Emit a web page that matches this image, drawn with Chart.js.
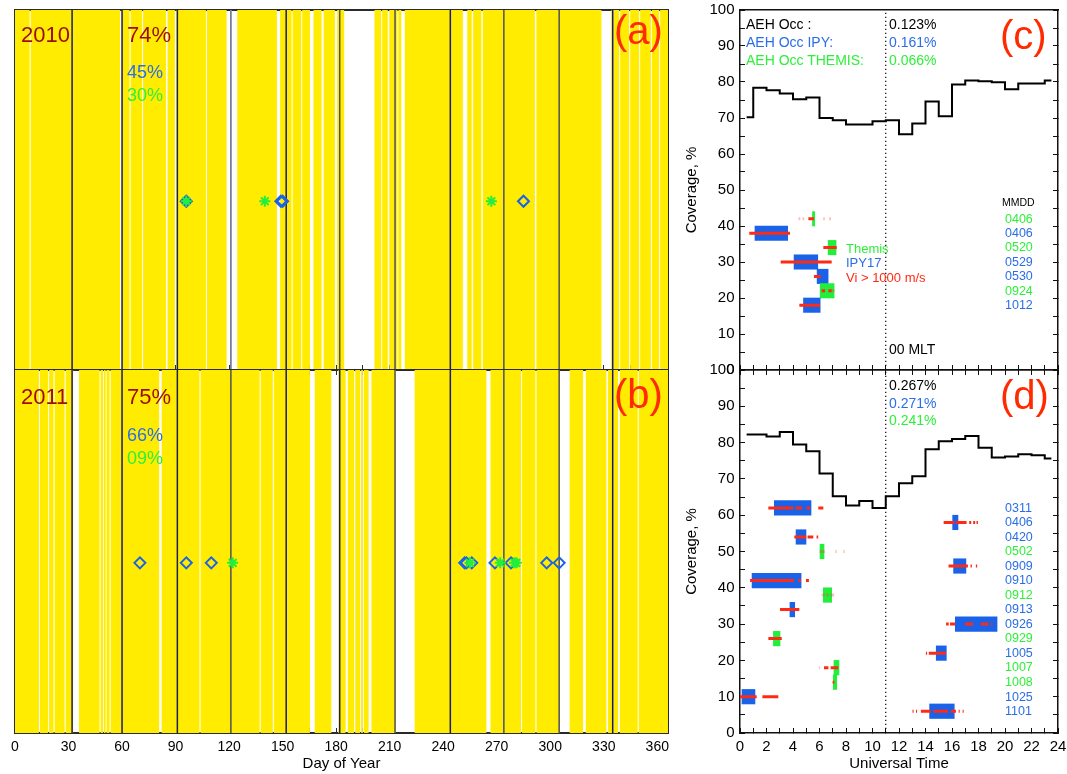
<!DOCTYPE html>
<html lang="en">
<head>
<meta charset="UTF-8">
<title>AEH coverage 2010 - 2011</title>
<style>
    * { margin: 0; padding: 0; box-sizing: border-box; }
    body {
        width: 1067px; height: 774px; position: relative; overflow: hidden;
        background: #fff; font-family: 'Liberation Sans', Arial, sans-serif;
    }
    canvas { position: absolute; }
    .t { position: absolute; line-height: 1; white-space: nowrap; }
    .big { font-size: 22px; color: #9c0c0c; }
    .mid { font-size: 18px; }
    .tag { font-size: 40px; color: #ff2a00; }
    .aeh { font-size: 14px; }
    .leg { font-size: 13px; }
    .blue { color: #2a6ee6; }
    .green { color: #2ef03a; }
    .red { color: #ff2a14; }
    .mmdd { position: absolute; font-size: 12.5px; line-height: 1; }
</style>
</head>
<body>
    <canvas id="cA" width="680" height="372" style="left:0;top:0"></canvas>
    <canvas id="cB" width="680" height="412" style="left:0;top:362px"></canvas>
    <canvas id="cC" width="387" height="376" style="left:680px;top:0"></canvas>
    <canvas id="cD" width="387" height="412" style="left:680px;top:362px"></canvas>

    <!-- panel (a) -->
    <div class="t big" style="left:21px;top:24px">2010</div>
    <div class="t big" style="left:127px;top:24px">74%</div>
    <div class="t mid blue" style="left:127px;top:62.5px">45%</div>
    <div class="t mid green" style="left:127px;top:85.5px">30%</div>
    <div class="t tag" style="left:614px;top:10px">(a)</div>

    <!-- panel (b) -->
    <div class="t big" style="left:21px;top:386px">2011</div>
    <div class="t big" style="left:127px;top:386px">75%</div>
    <div class="t mid blue" style="left:127px;top:426px">66%</div>
    <div class="t mid green" style="left:127px;top:448.5px">09%</div>
    <div class="t tag" style="left:614px;top:374px">(b)</div>

    <!-- panel (c) -->
    <div class="t aeh" style="left:746px;top:16.5px">AEH Occ :</div>
    <div class="t aeh blue" style="left:746px;top:35px">AEH Occ IPY:</div>
    <div class="t aeh green" style="left:746px;top:52.5px">AEH Occ THEMIS:</div>
    <div class="t aeh" style="left:889px;top:16.5px">0.123%</div>
    <div class="t aeh blue" style="left:889px;top:35px">0.161%</div>
    <div class="t aeh green" style="left:889px;top:52.5px">0.066%</div>
    <div class="t tag" style="left:1000px;top:15px">(c)</div>
    <div class="t leg green" style="left:846px;top:241.5px">Themis</div>
    <div class="t leg blue" style="left:846px;top:256px">IPY17</div>
    <div class="t leg red" style="left:846px;top:270.5px">Vi &gt; 1000 m/s</div>
    <div class="t" style="left:1002px;top:197px;font-size:10.5px">MMDD</div>
    <div class="t aeh" style="left:889px;top:341.5px">00 MLT</div>

    <!-- panel (d) -->
    <div class="t aeh" style="left:889px;top:378px">0.267%</div>
    <div class="t aeh blue" style="left:889px;top:396px">0.271%</div>
    <div class="t aeh green" style="left:889px;top:413px">0.241%</div>
    <div class="t tag" style="left:1000px;top:375px">(d)</div>

    <script src="https://cdn.jsdelivr.net/npm/chart.js@4.4.0/dist/chart.umd.min.js"></script>
    <script>
        // ---- data: day-of-year coverage (white = no data) ----
        const DAY_MAX = 366;
        const DAY_FULL = 24;
        const MARK_LEVEL = 11.25;
        const MONTH_STARTS = [32, 60, 91, 121, 152, 182, 213, 244, 274, 305, 335];

        const GAPS_2010 = [
            [8.2, 8.8], [58.9, 59.8], [64.2, 64.8], [71.2, 71.8], [84.6, 85.5], [89.6, 90.5],
            [107.0, 107.6], [118.6, 120.5], [121.4, 124.6], [146.8, 148.6], [155.0, 155.6],
            [160.4, 161.0], [165.3, 167.3], [171.8, 173.0], [179.3, 180.6], [184.5, 201.5],
            [205.2, 205.8], [208.9, 209.8], [214.3, 214.9], [216.5, 218.5], [251.0, 253.5],
            [256.0, 256.8], [261.4, 262.2], [291.4, 292.2], [328.7, 334.3], [338.6, 339.2],
            [344.2, 344.8], [349.8, 350.4], [356.4, 357.0], [361.0, 361.6]
        ];
        const GAPS_2011 = [
            [13.4, 14.0], [18.5, 19.1], [21.6, 22.2], [27.8, 28.4], [32.6, 35.9], [47.4, 48.0],
            [49.3, 49.8], [50.8, 51.3], [53.0, 53.6], [80.8, 82.2], [103.4, 104.0], [137.1, 137.7],
            [144.5, 145.1], [165.3, 168.0], [177.3, 181.2], [185.3, 186.5], [190.0, 190.7],
            [193.4, 194.0], [195.0, 195.6], [198.2, 199.8], [213.4, 224.0], [264.2, 266.5],
            [283.6, 284.2], [291.7, 292.3], [305.3, 310.9], [318.4, 319.9], [331.5, 332.4],
            [338.0, 339.0], [349.0, 349.6]
        ];

        const IPY_DAYS_2010 = [96, 149, 150, 285];
        const THEMIS_DAYS_2010 = [96, 140, 267];
        const IPY_DAYS_2011 = [70, 96, 110, 252, 253, 256, 269, 278, 298, 305];
        const THEMIS_DAYS_2011 = [122, 255, 272, 280, 281];

        // ---- data: coverage vs universal time ----
        const UT_HOURS = [0.5, 1.5, 2.5, 3.5, 4.5, 5.5, 6.5, 7.5, 8.5, 9.5, 10.5, 11.5,
                          12.5, 13.5, 14.5, 15.5, 16.5, 17.5, 18.5, 19.5, 20.5, 21.5, 22.5, 23.5];
        const COV_2010 = [70.2, 78.4, 77.7, 76.8, 75.2, 75.7, 70.0, 69.4, 68.2, 68.2, 69.1, 69.4,
                          65.5, 68.5, 74.6, 70.5, 79.3, 80.4, 80.2, 79.9, 78.0, 79.6, 79.6, 80.4];
        const COV_2011 = [82.2, 82.2, 81.7, 82.9, 79.5, 77.6, 71.5, 65.2, 62.7, 63.9, 62.0, 65.2,
                          68.8, 70.7, 78.2, 80.4, 81.0, 81.8, 78.6, 75.9, 76.2, 76.8, 76.5, 75.6];
        const MLT00_UT = 11;

        // events 2010 (T = Themis, I = IPY17)
        const EV_DATES_2010 = ['0406', '0406', '0520', '0529', '0530', '0924', '1012'];
        const EV_KIND_2010 = ['T', 'I', 'T', 'I', 'I', 'T', 'I'];
        const EV_LEVEL_2010 = [42, 38, 34, 30, 26, 22, 18];
        const EV_BOX_2010 = [[5.47, 5.64], [1.13, 3.6], [6.65, 7.25], [4.08, 5.87], [5.82, 6.65], [6.05, 7.1], [4.79, 6.05]];
        const EV_VI_2010 = [
            [[5.16, 5.58]], [[0.7, 3.77]], [[6.29, 7.3]], [[3.07, 6.92]], [[5.58, 6.09]],
            [[6.16, 6.42], [6.67, 6.92]], [[4.48, 6.04]]
        ];
        const EV_VI_FAINT_2010 = [
            [[4.42, 4.55], [4.72, 4.85], [6.28, 6.4], [6.73, 6.86]], [], [], [], [], [[6.92, 7.15]], []
        ];

        // events 2011
        const EV_DATES_2011 = ['0311', '0406', '0420', '0502', '0909', '0910', '0912', '0913',
                               '0926', '0929', '1005', '1007', '1008', '1025', '1101'];
        const EV_KIND_2011 = ['I', 'I', 'I', 'T', 'I', 'I', 'T', 'I', 'I', 'T', 'I', 'T', 'T', 'I', 'I'];
        const EV_LEVEL_2011 = [62, 58, 54, 50, 46, 42, 38, 34, 30, 26, 22, 18, 14, 10, 6];
        const EV_BOX_2011 = [[2.59, 5.36], [16.05, 16.45], [4.23, 4.98], [6.04, 6.34], [16.12, 17.05],
                             [0.91, 4.61], [6.29, 6.92], [3.77, 4.13], [16.25, 19.4], [2.52, 3.02],
                             [14.81, 15.57], [7.09, 7.47], [7.04, 7.3], [0.15, 1.13], [14.31, 16.17]];
        const EV_VI_2011 = [
            [[2.14, 4.03], [4.2, 4.7], [5.03, 5.28], [5.91, 6.29]],
            [[15.37, 16.2], [16.3, 17.1], [17.3, 17.45], [17.6, 17.75], [17.85, 17.96]],
            [[4.1, 5.0], [5.1, 5.53], [5.78, 5.9]],
            [],
            [[15.74, 17.2], [17.4, 17.5], [17.8, 17.9]],
            [[0.76, 4.07], [4.4, 4.6], [4.98, 5.2]],
            [],
            [[3.02, 4.48]],
            [[15.55, 15.75], [15.85, 16.25], [16.98, 17.6], [18.17, 18.74], [18.95, 19.05]],
            [[2.14, 3.15]],
            [[14.03, 14.12], [14.25, 15.54]],
            [[6.34, 6.67], [6.84, 7.42]],
            [[6.99, 7.12]],
            [[0.0, 1.26], [1.69, 2.89]],
            [[13.02, 13.1], [13.28, 13.36], [13.65, 14.4], [14.6, 15.7], [15.9, 16.3], [16.5, 16.58], [16.8, 16.88]]
        ];
        const EV_VI_FAINT_2011 = [
            [], [], [], [[6.0, 6.4], [7.2, 7.3], [7.8, 7.9]], [], [], [[6.16, 6.4], [6.5, 6.7], [6.8, 7.1]],
            [], [], [], [], [[5.97, 6.05]], [], [], []
        ];

        // ---- styles ----
        const YELLOW = '#ffec00';
        const BLUE = '#1a62e8';
        const GREEN = '#22ee3c';
        const RED = '#ff2a14';
        const RED_FAINT = 'rgba(255, 60, 40, 0.35)';
        const NAVY = '#1a1a6e';
        const GREY = '#505058';
        const LINE_COLORS_2010 = [NAVY, NAVY, '#202040', '#5d6fbf', NAVY, GREY, GREY, NAVY, GREY, GREY, NAVY];
        const LINE_COLORS_2011 = [NAVY, NAVY, '#202040', GREY, NAVY, NAVY, GREY, NAVY, '#44507a', GREY, NAVY];

        Chart.defaults.font.family = "'Liberation Sans', Arial, sans-serif";
        Chart.defaults.color = '#000';

        function axis(opts) {
            const frame = opts.frame;
            return {
                type: 'linear', min: opts.min, max: opts.max, position: opts.position, offset: false,
                grid: { drawOnChartArea: false, offset: false, drawTicks: opts.ticks !== false,
                        tickLength: -5, color: frame, tickWidth: 1 },
                border: { display: true, color: frame, width: opts.bw },
                ticks: {
                    display: !!opts.labels, stepSize: opts.step, includeBounds: false, autoSkip: false,
                    maxRotation: 0, padding: opts.pad || 10, font: { size: opts.fs || 14 },
                    callback: opts.labels || (() => '')
                },
                title: opts.title ? { display: true, text: opts.title, font: { size: 15 },
                                      padding: opts.titlePad } : { display: false },
                afterFit: s => {
                    if (opts.h !== undefined) s.height = opts.h;
                    if (opts.w !== undefined) s.width = opts.w;
                    s.paddingTop = 0; s.paddingBottom = 0; s.paddingLeft = 0; s.paddingRight = 0;
                }
            };
        }

        function baseOptions(pad, scales) {
            return {
                responsive: false, animation: false, devicePixelRatio: 1,
                layout: { padding: pad, autoPadding: false },
                plugins: { legend: { display: false }, tooltip: { enabled: false } },
                events: [],
                scales: scales
            };
        }

        function dayPanel(id, gaps, ipyDays, themisDays, lineColors, bottom) {
            const cover = [{ x: 0, y: DAY_FULL }];
            gaps.forEach(g => cover.push({ x: g[0], y: 0 }, { x: g[1], y: DAY_FULL }));
            cover.push({ x: DAY_MAX, y: DAY_FULL });

            const datasets = [{
                data: cover, stepped: 'before', fill: 'origin', backgroundColor: YELLOW,
                borderWidth: 0, pointRadius: 0, order: 9
            }];
            MONTH_STARTS.forEach((d, i) => datasets.push({
                data: [{ x: d, y: 0 }, { x: d, y: DAY_FULL }], borderColor: lineColors[i],
                borderWidth: 1.5, pointRadius: 0, fill: false, order: 5
            }));
            datasets.push({
                data: ipyDays.map(d => ({ x: d, y: MARK_LEVEL })), showLine: false,
                pointStyle: 'rectRot', pointRadius: 5.5, pointBorderWidth: 2,
                pointBorderColor: BLUE, pointBackgroundColor: 'rgba(0,0,0,0)', order: 2
            });
            datasets.push({
                data: themisDays.map(d => ({ x: d, y: MARK_LEVEL })), showLine: false,
                pointStyle: 'star', pointRadius: 5.5, pointBorderWidth: 2,
                pointBorderColor: GREEN, pointBackgroundColor: GREEN, order: 1
            });

            const frame = '#2a2a2a';
            const scales = {
                x: axis({ min: 0, max: DAY_MAX, position: 'bottom', step: 15, frame, bw: 2,
                          labels: bottom ? (v => v % 30 === 0 ? v : '') : null,
                          title: bottom ? 'Day of Year' : null, titlePad: { top: 0, bottom: 1 },
                          h: bottom ? 41 : 2, pad: 10.5 }),
                x2: axis({ min: 0, max: DAY_MAX, position: 'top', step: 15, frame, bw: 2,
                           ticks: bottom, h: 0 }),
                y: axis({ min: 0, max: DAY_FULL, position: 'left', step: 2, frame, bw: 2, w: 15 }),
                y2: axis({ min: 0, max: DAY_FULL, position: 'right', step: 2, frame, bw: 2, w: 0 })
            };
            return new Chart(document.getElementById(id), {
                type: 'line',
                data: { datasets },
                options: baseOptions({ left: 0, right: 12, top: bottom ? 8 : 10, bottom: 0 }, scales)
            });
        }

        function viPoints(segLists, levels) {
            const pts = [];
            segLists.forEach((list, i) => list.forEach(s => {
                pts.push({ x: s[0], y: levels[i] }, { x: s[1], y: levels[i] }, { x: s[1], y: null });
            }));
            return pts;
        }

        function utPanel(id, cover, dates, kinds, levels, boxes, vi, viFaint, bottom, topPx) {
            const datasets = [
                {
                    type: 'bar', indexAxis: 'y', grouped: false,
                    data: levels.map((l, i) => ({ y: l, x: boxes[i] })),
                    backgroundColor: kinds.map(k => k === 'T' ? GREEN : BLUE),
                    barPercentage: 1, categoryPercentage: 1, borderWidth: 0, order: 9
                },
                {
                    data: UT_HOURS.map((h, i) => ({ x: h, y: cover[i] })), stepped: 'middle',
                    borderColor: '#000', borderWidth: 2, pointRadius: 0, fill: false, order: 6
                },
                {
                    data: [{ x: MLT00_UT, y: 0 }, { x: MLT00_UT, y: 100 }], borderColor: '#000',
                    borderWidth: 1.2, borderDash: [1.3, 2.7], pointRadius: 0, fill: false, order: 5
                },
                {
                    data: viPoints(viFaint, levels), borderColor: RED_FAINT, borderWidth: 3,
                    pointRadius: 0, spanGaps: false, fill: false, order: 3
                },
                {
                    data: viPoints(vi, levels), borderColor: RED, borderWidth: 3,
                    pointRadius: 0, spanGaps: false, fill: false, order: 2
                }
            ];
            const frame = '#111';
            const scales = {
                x: axis({ min: 0, max: 24, position: 'bottom', step: 1, frame, bw: 1.5,
                          labels: bottom ? (v => v % 2 === 0 ? v : '') : null, fs: 15,
                          title: bottom ? 'Universal Time' : null, titlePad: { top: 0, bottom: 1 },
                          h: bottom ? 41 : 6, pad: 10 }),
                x2: axis({ min: 0, max: 24, position: 'top', step: 1, frame, bw: 1.5, ticks: bottom, h: 0 }),
                y: axis({ min: 0, max: 100, position: 'left', step: 5, frame, bw: 1.5,
                          labels: v => v % 10 === 0 ? v : '', fs: 15, pad: 10.5,
                          title: 'Coverage, %', titlePad: { top: 3, bottom: 0 }, w: 60 }),
                y2: axis({ min: 0, max: 100, position: 'right', step: 5, frame, bw: 1.5, w: 0 })
            };
            const chart = new Chart(document.getElementById(id), {
                type: 'line',
                data: { datasets },
                options: baseOptions({ left: 0, right: 9, top: bottom ? 8 : 10, bottom: 0 }, scales)
            });
            // date labels next to the events
            dates.forEach((d, i) => {
                const el = document.createElement('div');
                el.className = 'mmdd ' + (kinds[i] === 'T' ? 'green' : 'blue');
                el.textContent = d;
                el.style.left = '1005px';
                el.style.top = (topPx + chart.scales.y.getPixelForValue(levels[i]) - 6.2) + 'px';
                document.body.appendChild(el);
            });
            return chart;
        }

        dayPanel('cA', GAPS_2010, IPY_DAYS_2010, THEMIS_DAYS_2010, LINE_COLORS_2010, false);
        dayPanel('cB', GAPS_2011, IPY_DAYS_2011, THEMIS_DAYS_2011, LINE_COLORS_2011, true);
        utPanel('cC', COV_2010, EV_DATES_2010, EV_KIND_2010, EV_LEVEL_2010, EV_BOX_2010,
                EV_VI_2010, EV_VI_FAINT_2010, false, 0);
        utPanel('cD', COV_2011, EV_DATES_2011, EV_KIND_2011, EV_LEVEL_2011, EV_BOX_2011,
                EV_VI_2011, EV_VI_FAINT_2011, true, 362);
    </script>
</body>
</html>
